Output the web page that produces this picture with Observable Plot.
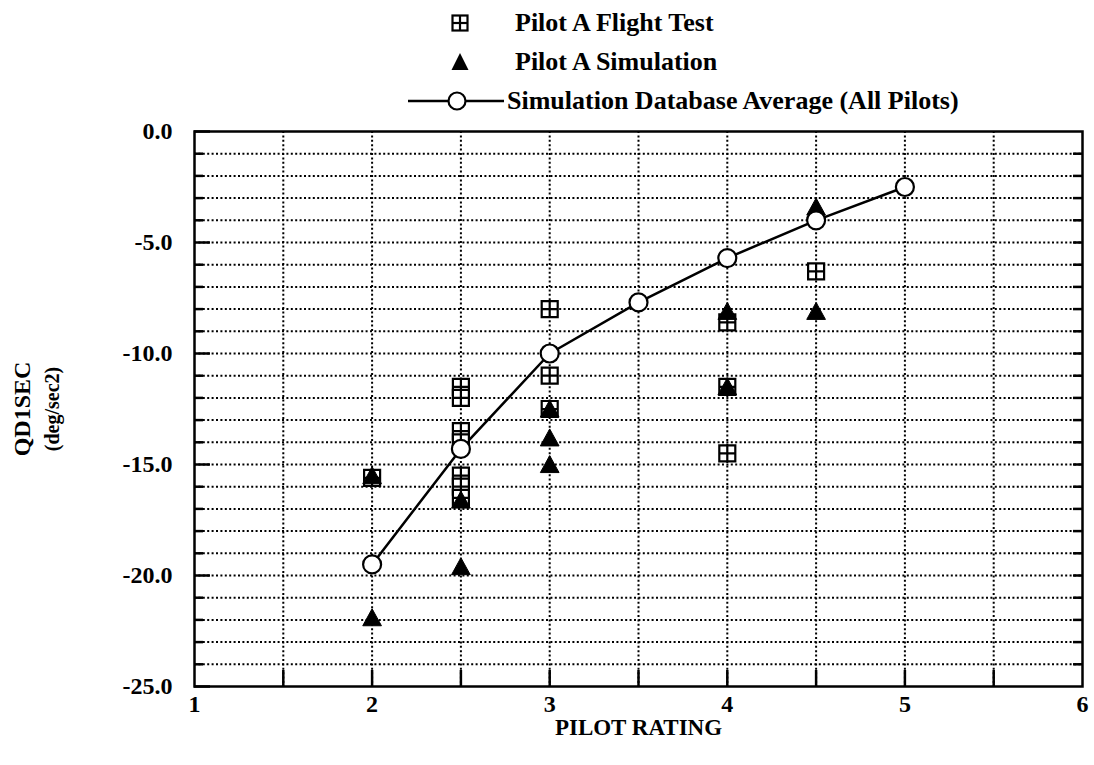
<!DOCTYPE html>
<html><head><meta charset="utf-8">
<script src="https://cdn.jsdelivr.net/npm/d3@7"></script>
<script src="https://cdn.jsdelivr.net/npm/@observablehq/plot@0.6"></script>
<style>
body{margin:0;background:#fff;font-family:"Liberation Serif","Times New Roman",serif;}
#legend{position:relative;height:118px;width:1094px;font-weight:bold;font-size:26px;color:#000;}
.row{position:absolute;display:flex;align-items:center;height:34px;white-space:nowrap;}
.row svg{display:block;}
</style></head><body>
<div id="legend"></div>
<div id="chart"></div>
<script>
// ---- data ----
const flightX = [2, 2.5, 2.5, 2.5, 2.5, 2.5, 2.5, 2.5, 3, 3, 3, 4, 4, 4, 4.5];
const flightY = [-15.6, -11.5, -12.0, -13.5, -14.0, -15.5, -16.0, -16.5, -8.0, -11.0, -12.5, -8.6, -11.5, -14.5, -6.3];
const simX = [2, 2, 2.5, 2.5, 3, 3, 3, 4, 4, 4.5, 4.5];
const simY = [-15.5, -21.9, -16.6, -19.6, -12.5, -13.8, -15.0, -8.1, -11.5, -3.4, -8.1];
const avgX = [2, 2.5, 3, 3.5, 4, 4.5, 5];
const avgY = [-19.5, -14.3, -10.0, -7.7, -5.7, -4.0, -2.5];
const xTicks = [1, 2, 3, 4, 5, 6];
const yTicks = [0, -5, -10, -15, -20, -25];
const xGrid = [1.5, 2, 2.5, 3, 3.5, 4, 4.5, 5, 5.5];
const yGrid = [-1,-2,-3,-4,-5,-6,-7,-8,-9,-10,-11,-12,-13,-14,-15,-16,-17,-18,-19,-20,-21,-22,-23,-24];
const legendLabels = ["Pilot A Flight Test", "Pilot A Simulation", "Simulation Database Average (All Pilots)"];

const flight = flightX.map((x, i) => ({x, y: flightY[i]}));
const sim = simX.map((x, i) => ({x, y: simY[i]}));
const avg = avgX.map((x, i) => ({x, y: avgY[i]}));

// custom symbols
const boxPlus = {draw(ctx, size) {
  const h = Math.sqrt(size / Math.PI);
  ctx.moveTo(-h, -h); ctx.lineTo(h, -h); ctx.lineTo(h, h); ctx.lineTo(-h, h); ctx.closePath();
  ctx.moveTo(0, -h); ctx.lineTo(0, h);
  ctx.moveTo(-h, 0); ctx.lineTo(h, 0);
}};
const tri = {draw(ctx, size) {
  const h = Math.sqrt(size / Math.PI);
  ctx.moveTo(0, -h * 1.05); ctx.lineTo(h * 1.1, h * 0.95); ctx.lineTo(-h * 1.1, h * 0.95); ctx.closePath();
}};

const W = 1094, H = 647;
const mL = 194, mR = 12, mT = 13, mB = 79;
const iw = W - mL - mR, ih = H - mT - mB;
const dots = {stroke: "black", strokeOpacity: 1, strokeWidth: 2, strokeDasharray: "2,2.4"};
const font = "'Liberation Serif', 'Times New Roman', serif";

const chart = Plot.plot({
  width: W, height: H,
  marginLeft: mL, marginRight: mR, marginTop: mT, marginBottom: mB,
  style: {fontFamily: font, background: "white", color: "black"},
  x: {domain: [1, 6], ticks: xTicks},
  y: {domain: [-25, 0], ticks: yTicks},
  marks: [
    Plot.gridX(xGrid, dots),
    Plot.gridY(yGrid, dots),
    // inward ticks
    Plot.tickY(yGrid.filter(d => d % 5 !== 0), {y: d => d, insetRight: iw - 9, stroke: "black", strokeWidth: 2.5}),
    Plot.tickY(yTicks, {y: d => d, insetRight: iw - 16, stroke: "black", strokeWidth: 2.5}),
    Plot.tickY(yGrid, {y: d => d, insetLeft: iw - 9, stroke: "black", strokeWidth: 2.5}),
    Plot.tickX(xGrid, {x: d => d, insetTop: ih - 16, stroke: "black", strokeWidth: 2.5}),
    Plot.frame({stroke: "black", strokeWidth: 2.5}),
    Plot.axisY({ticks: yTicks, tickSize: 0, tickPadding: 22, tickFormat: d => d.toFixed(1), fontSize: 24, fontWeight: "bold", label: null}),
    Plot.axisX({ticks: xTicks, tickSize: 0, tickPadding: 8, tickFormat: d => String(d), fontSize: 24, fontWeight: "bold", label: null}),
    Plot.line(avg, {x: "x", y: "y", stroke: "black", strokeWidth: 2.5}),
    Plot.dot(flight, {x: "x", y: "y", symbol: boxPlus, r: 8, stroke: "black", strokeWidth: 2.2, fill: "white"}),
    Plot.dot(sim, {x: "x", y: "y", symbol: tri, r: 8.5, fill: "black", stroke: "black", strokeWidth: 1}),
    Plot.dot(avg, {x: "x", y: "y", r: 9, stroke: "black", strokeWidth: 2.2, fill: "white"}),
    Plot.text(["QD1SEC"], {frameAnchor: "left", textAnchor: "middle", rotate: -90, dx: -172, fontSize: 24, fontWeight: "bold", fill: "black"}),
    Plot.text(["(deg/sec2)"], {frameAnchor: "left", textAnchor: "middle", rotate: -90, dx: -142, fontSize: 20, fontWeight: "bold", fill: "black"}),
    Plot.text(["PILOT RATING"], {frameAnchor: "bottom", dy: 48, fontSize: 23, fontWeight: "bold", fill: "black", letterSpacing: "-0.5px"})
  ]
});
document.getElementById("chart").appendChild(chart);

// legend
const leg = document.getElementById("legend");
const icons = [
  `<svg width="110" height="30"><g transform="translate(58,15)"><rect x="-7.5" y="-7.5" width="15" height="15" fill="white" stroke="black" stroke-width="2.2"/><line x1="0" y1="-7.5" x2="0" y2="7.5" stroke="black" stroke-width="2.2"/><line x1="-7.5" y1="0" x2="7.5" y2="0" stroke="black" stroke-width="2.2"/></g></svg>`,
  `<svg width="110" height="30"><path transform="translate(58,15)" d="M0,-9L8.5,8L-8.5,8Z" fill="black"/></svg>`,
  `<svg width="102" height="30"><line x1="6" y1="15" x2="102" y2="15" stroke="black" stroke-width="2.5"/><circle cx="55" cy="15" r="8.5" fill="white" stroke="black" stroke-width="2.2"/></svg>`
];
const tops = [6, 45, 84];
legendLabels.forEach((lab, i) => {
  const d = document.createElement("div");
  d.className = "row";
  d.style.top = tops[i] + "px";
  d.style.left = "402px";
  d.innerHTML = icons[i] + `<span style="margin-left:3px">${lab}</span>`;
  leg.appendChild(d);
});
</script>
</body></html>
